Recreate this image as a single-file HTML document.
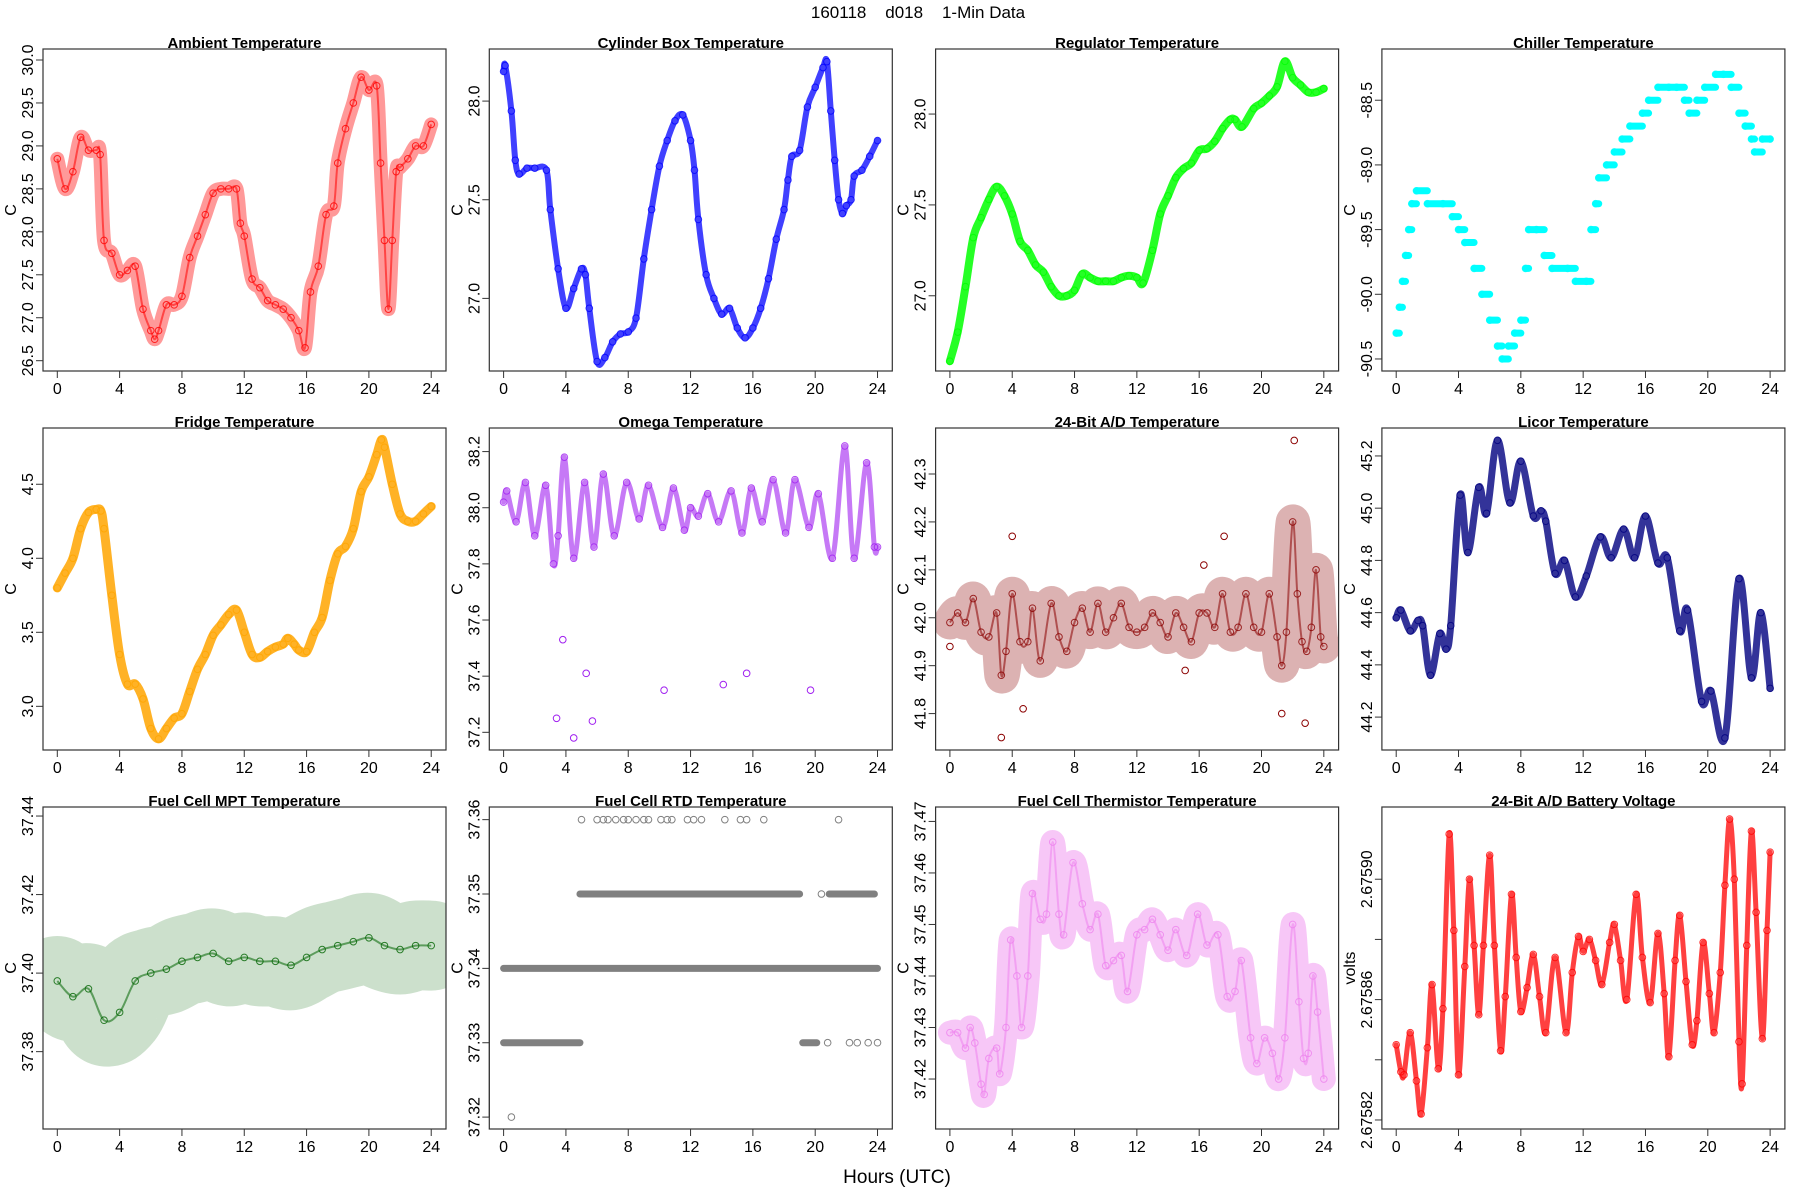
<!DOCTYPE html>
<html><head><meta charset="utf-8"><title>160118 d018 1-Min Data</title>
<style>
html,body{margin:0;padding:0;background:#fff;}
svg{display:block;font-family:"Liberation Sans",Arial,sans-serif;}
</style></head>
<body>
<svg id="chart" width="1800" height="1200" viewBox="0 0 1800 1200" xmlns="http://www.w3.org/2000/svg">
<rect x="0" y="0" width="1800" height="1200" fill="#fff"/>
<text x="918" y="18" text-anchor="middle" font-size="17" style="white-space:pre">160118    d018    1-Min Data</text>
<text x="897" y="1183" text-anchor="middle" font-size="19">Hours (UTC)</text>
</svg>
<script>
// ---- data arrays ----
const xTicks = [0, 4, 8, 12, 16, 20, 24];

const ambientHours = [0,0.5,1,1.5,2,2.5,2.75,3,3.5,4,4.5,5,5.5,6,6.25,6.5,7,7.5,8,8.5,9,9.5,10,10.5,11,11.5,11.75,12,12.5,13,13.5,14,14.5,15,15.5,15.9,16.25,16.75,17.25,17.75,18,18.5,19,19.5,20,20.5,20.75,21,21.25,21.5,21.75,22,22.5,23,23.5,24];
const ambientValues = [28.85,28.5,28.7,29.1,28.95,28.95,28.9,27.9,27.75,27.5,27.55,27.6,27.1,26.85,26.75,26.85,27.15,27.15,27.25,27.7,27.95,28.2,28.45,28.5,28.5,28.5,28.1,27.95,27.45,27.35,27.2,27.15,27.1,27.0,26.85,26.65,27.3,27.6,28.2,28.3,28.8,29.2,29.5,29.8,29.65,29.7,28.8,27.9,27.1,27.9,28.7,28.75,28.85,29.0,29.0,29.25];
const ambientTicks = [26.5,27.0,27.5,28.0,28.5,29.0,29.5,30.0];
const ambientTickLabels = ["26.5","27.0","27.5","28.0","28.5","29.0","29.5","30.0"];

const cylinderHours = [0,0.1,0.5,0.75,1,1.5,2,2.75,3,3.5,4,4.5,5,5.25,5.5,6,6.5,7,7.5,8,8.5,9,9.5,10,10.5,11,11.5,12,12.25,12.5,13,13.5,14,14.5,15,15.5,16,16.5,17,17.5,18,18.25,18.5,19,19.5,20,20.5,20.75,21,21.25,21.5,21.75,22,22.3,22.5,23,23.5,24];
const cylinderValues = [28.15,28.18,27.95,27.7,27.63,27.66,27.66,27.65,27.45,27.15,26.95,27.05,27.15,27.12,26.95,26.68,26.7,26.78,26.82,26.83,26.9,27.2,27.45,27.67,27.8,27.9,27.93,27.8,27.65,27.4,27.12,27.0,26.92,26.95,26.85,26.8,26.85,26.95,27.1,27.3,27.45,27.6,27.72,27.75,27.97,28.07,28.17,28.2,27.95,27.7,27.5,27.43,27.47,27.5,27.62,27.65,27.72,27.8];
const cylinderTicks = [27.0,27.5,28.0];
const cylinderTickLabels = ["27.0","27.5","28.0"];

const regulatorHours = [0,0.5,1,1.5,2,2.5,3,3.5,4,4.5,5,5.5,6,6.5,7,7.5,8,8.5,9,9.5,10,10.5,11,11.5,12,12.4,13,13.5,14,14.5,15,15.5,16,16.5,17,17.5,18,18.3,18.75,19.5,20,20.5,21,21.5,22,22.5,23,23.5,24];
const regulatorValues = [26.64,26.8,27.05,27.32,27.43,27.53,27.6,27.55,27.45,27.3,27.25,27.17,27.13,27.05,27.0,27.0,27.03,27.12,27.1,27.08,27.08,27.08,27.1,27.11,27.1,27.07,27.25,27.45,27.55,27.65,27.7,27.73,27.8,27.81,27.85,27.92,27.97,27.97,27.93,28.03,28.06,28.1,28.15,28.29,28.2,28.16,28.12,28.12,28.14];
const regulatorTicks = [27.0,27.5,28.0];
const regulatorTickLabels = ["27.0","27.5","28.0"];

const chillerHours = [0,0.2,0.4,0.6,0.8,1.0,1.3,2,3,3.6,4.0,4.4,5,5.5,6,6.5,6.8,7.2,7.6,8,8.3,8.5,9,9.5,10,11,11.5,12.2,12.5,12.8,13,13.5,14,14.5,15,15.8,16.2,16.8,17.5,18,18.5,18.8,19.3,19.8,20.5,21,21.5,22,22.4,22.8,23.0,23.5,24];
const chillerValues = [-90.3,-90.1,-89.9,-89.7,-89.5,-89.3,-89.2,-89.3,-89.3,-89.4,-89.5,-89.6,-89.8,-90.0,-90.2,-90.4,-90.5,-90.4,-90.3,-90.2,-89.8,-89.5,-89.5,-89.7,-89.8,-89.8,-89.9,-89.9,-89.5,-89.3,-89.1,-89.0,-88.9,-88.8,-88.7,-88.6,-88.5,-88.4,-88.4,-88.4,-88.5,-88.6,-88.5,-88.4,-88.3,-88.3,-88.4,-88.6,-88.7,-88.8,-88.9,-88.8,-88.8];
const chillerTicks = [-90.5,-90.0,-89.5,-89.0,-88.5];
const chillerTickLabels = ["-90.5","-90.0","-89.5","-89.0","-88.5"];

const fridgeHours = [0,0.5,1,1.5,2,2.5,2.8,3,3.5,4,4.5,5,5.5,6,6.5,7,7.5,8,8.5,9,9.5,10,10.5,11,11.5,12,12.5,13,13.5,14,14.5,14.8,15.2,15.5,16,16.5,17,17.5,18,18.5,19,19.5,20,20.5,20.8,21,21.5,22,22.5,23,23.5,24];
const fridgeValues = [3.8,3.9,4.0,4.2,4.31,4.33,4.32,4.2,3.75,3.35,3.15,3.15,3.05,2.85,2.78,2.85,2.92,2.95,3.1,3.25,3.35,3.48,3.55,3.62,3.65,3.5,3.35,3.33,3.37,3.4,3.42,3.46,3.42,3.38,3.37,3.5,3.6,3.85,4.03,4.08,4.2,4.45,4.55,4.7,4.8,4.75,4.5,4.3,4.25,4.25,4.3,4.35];
const fridgeTicks = [3.0,3.5,4.0,4.5];
const fridgeTickLabels = ["3.0","3.5","4.0","4.5"];

const omegaHours = [0,0.2,0.8,1.4,2.0,2.7,3.2,3.5,3.9,4.5,5.2,5.8,6.4,7.1,7.9,8.7,9.3,10.2,10.9,11.6,12.0,12.5,13.1,13.8,14.6,15.3,15.9,16.6,17.3,18.1,18.7,19.6,20.2,21.1,21.9,22.5,23.3,23.8,24.0];
const omegaValues = [38.02,38.06,37.95,38.09,37.9,38.08,37.8,37.9,38.18,37.82,38.09,37.86,38.12,37.9,38.09,37.96,38.08,37.93,38.07,37.92,38.0,37.97,38.05,37.95,38.06,37.91,38.07,37.95,38.1,37.91,38.1,37.93,38.05,37.82,38.22,37.82,38.16,37.86,37.86];
const omegaOutlierHours = [3.4,3.8,4.5,5.3,5.7,10.3,14.1,15.6,19.7];
const omegaOutlierValues = [37.25,37.53,37.18,37.41,37.24,37.35,37.37,37.41,37.35];
const omegaTicks = [37.2,37.4,37.6,37.8,38.0,38.2];
const omegaTickLabels = ["37.2","37.4","37.6","37.8","38.0","38.2"];

const adHours = [0,0.5,1,1.5,2,2.5,3,3.3,3.6,4,4.5,5,5.3,5.8,6.5,7,7.5,8,8.5,9,9.5,10,10.5,11,11.5,12,12.5,13,13.5,14,14.5,15,15.5,16,16.5,17,17.5,18,18.5,19,19.5,20,20.5,21,21.3,21.6,22,22.3,22.6,22.9,23.2,23.5,23.8,24];
const adValues = [41.99,42.01,41.99,42.04,41.97,41.96,42.01,41.88,41.93,42.05,41.95,41.95,42.02,41.91,42.03,41.96,41.93,41.99,42.02,41.97,42.03,41.97,42.0,42.03,41.98,41.97,41.98,42.01,41.99,41.96,42.01,41.98,41.95,42.01,42.01,41.98,42.05,41.97,41.98,42.05,41.98,41.97,42.05,41.96,41.9,41.97,42.2,42.05,41.95,41.93,41.98,42.1,41.96,41.94];
const adOutlierHours = [3.3,4.0,22.1,21.3,22.8,17.6,16.3,4.7,15.1,0];
const adOutlierValues = [41.75,42.17,42.37,41.8,41.78,42.17,42.11,41.81,41.89,41.94];
const adTicks = [41.8,41.9,42.0,42.1,42.2,42.3];
const adTickLabels = ["41.8","41.9","42.0","42.1","42.2","42.3"];

const licorHours = [0,0.3,0.9,1.4,1.7,2.2,2.8,3.2,3.5,4.1,4.6,5.3,5.8,6.5,7.3,8.0,8.8,9.3,9.6,10.2,10.8,11.5,12.2,13.1,13.8,14.6,15.3,16.0,16.8,17.4,18.2,18.7,19.6,20.2,21.1,22.0,22.8,23.4,24];
const licorValues = [44.58,44.61,44.53,44.57,44.55,44.36,44.52,44.46,44.55,45.05,44.83,45.08,44.98,45.26,45.02,45.18,44.97,44.99,44.95,44.75,44.8,44.66,44.74,44.89,44.81,44.92,44.81,44.97,44.79,44.81,44.53,44.61,44.26,44.3,44.12,44.73,44.35,44.6,44.31];
const licorTicks = [44.2,44.4,44.6,44.8,45.0,45.2];
const licorTickLabels = ["44.2","44.4","44.6","44.8","45.0","45.2"];

const mptHours = [0,1,2,3,4,5,6,7,8,9,10,11,12,13,14,15,16,17,18,19,20,21,22,23,24];
const mptValues = [37.398,37.394,37.396,37.388,37.390,37.398,37.400,37.401,37.403,37.404,37.405,37.403,37.404,37.403,37.403,37.402,37.404,37.406,37.407,37.408,37.409,37.407,37.406,37.407,37.407];
const mptTicks = [37.38,37.40,37.42,37.44];
const mptTickLabels = ["37.38","37.40","37.42","37.44"];

const rtdSegStart = [0,19.2,0,4.9,20.9];
const rtdSegEnd = [4.9,20.1,24,19.0,23.8];
const rtdSegLevel = [37.33,37.33,37.34,37.35,37.35];
const rtdPointHours = [0.5,5.0,6.0,6.4,6.7,7.2,7.7,8.0,8.5,9.0,9.3,10.1,10.5,10.8,11.8,12.2,12.7,14.2,15.2,15.6,16.7,21.5,20.8,22.2,22.7,23.4,24.0,20.4];
const rtdPointLevels = [37.32,37.36,37.36,37.36,37.36,37.36,37.36,37.36,37.36,37.36,37.36,37.36,37.36,37.36,37.36,37.36,37.36,37.36,37.36,37.36,37.36,37.36,37.33,37.33,37.33,37.33,37.33,37.35];
const rtdTicks = [37.32,37.33,37.34,37.35,37.36];
const rtdTickLabels = ["37.32","37.33","37.34","37.35","37.36"];

const thermHours = [0,0.5,1,1.3,1.6,2.0,2.2,2.5,3.0,3.2,3.6,3.9,4.3,4.6,5.0,5.3,5.8,6.2,6.6,7.0,7.3,7.9,8.5,9.0,9.5,10.0,10.5,11.0,11.4,12.0,12.5,13.0,13.5,14.0,14.5,15.2,15.9,16.5,17.2,17.8,18.3,18.7,19.3,19.7,20.2,20.7,21.1,21.5,22.0,22.4,22.7,23.0,23.3,23.6,24];
const thermValues = [37.429,37.429,37.426,37.43,37.427,37.419,37.417,37.424,37.426,37.421,37.43,37.447,37.44,37.43,37.44,37.456,37.451,37.452,37.466,37.452,37.448,37.462,37.454,37.449,37.452,37.442,37.443,37.444,37.437,37.448,37.449,37.451,37.448,37.445,37.449,37.444,37.452,37.446,37.448,37.436,37.437,37.443,37.428,37.423,37.428,37.425,37.42,37.428,37.45,37.435,37.424,37.425,37.44,37.433,37.42];
const thermTicks = [37.42,37.43,37.44,37.45,37.46,37.47];
const thermTickLabels = ["37.42","37.43","37.44","37.45","37.46","37.47"];

const battHours = [0,0.3,0.5,0.9,1.3,1.6,2.0,2.3,2.7,3.0,3.4,3.7,4.0,4.4,4.7,5.0,5.3,5.6,6.0,6.3,6.7,7.0,7.4,7.7,8.0,8.4,8.8,9.2,9.6,10.2,10.9,11.3,11.7,12.0,12.4,12.8,13.2,13.7,14.0,14.4,14.8,15.4,15.8,16.3,16.8,17.2,17.5,17.9,18.2,18.6,19.0,19.3,19.7,20.1,20.4,20.8,21.1,21.4,21.7,22.0,22.2,22.5,22.8,23.1,23.5,23.8,24.0];
const battValues = [2.675845,2.675836,2.675835,2.675849,2.675833,2.675822,2.675844,2.675865,2.675837,2.675857,2.675915,2.675883,2.675835,2.675871,2.675900,2.675878,2.675855,2.675878,2.675908,2.675878,2.675843,2.675861,2.675895,2.675874,2.675856,2.675864,2.675875,2.675861,2.675849,2.675874,2.675849,2.675869,2.675881,2.675876,2.675880,2.675873,2.675865,2.675879,2.675885,2.675873,2.675860,2.675895,2.675874,2.675859,2.675882,2.675862,2.675841,2.675873,2.675888,2.675866,2.675845,2.675853,2.675879,2.675862,2.675849,2.675869,2.675898,2.675920,2.675900,2.675846,2.675832,2.675878,2.675916,2.675889,2.675847,2.675883,2.675909];
const battTicks = [2.67582,2.67584,2.67586,2.67588,2.67590];
const battTickLabels = ["2.67582","","2.67586","","2.67590"];

// ---- rendering ----
const NS = "http://www.w3.org/2000/svg";
const svg = document.getElementById("chart");
function mk(tag, attrs, parent) {
  const e = document.createElementNS(NS, tag);
  for (const k in attrs) e.setAttribute(k, attrs[k]);
  (parent || svg).appendChild(e);
  return e;
}
function smoothPath(P) {
  if (P.length < 2) return "";
  let d = "M" + P[0][0].toFixed(1) + "," + P[0][1].toFixed(1);
  for (let i = 0; i < P.length - 1; i++) {
    const p0 = P[i - 1] || P[i], p1 = P[i], p2 = P[i + 1], p3 = P[i + 2] || P[i + 1];
    const c1x = p1[0] + (p2[0] - p0[0]) / 6, c1y = p1[1] + (p2[1] - p0[1]) / 6;
    const c2x = p2[0] - (p3[0] - p1[0]) / 6, c2y = p2[1] - (p3[1] - p1[1]) / 6;
    d += " C" + c1x.toFixed(1) + "," + c1y.toFixed(1) + " " + c2x.toFixed(1) + "," + c2y.toFixed(1) + " " + p2[0].toFixed(1) + "," + p2[1].toFixed(1);
  }
  return d;
}

const panels = [
  {slug:"ambient", title:"Ambient Temperature", ylab:"C", ytop:30.128, ybot:26.38, color:"#ff0000", hours:ambientHours, values:ambientValues, ticks:ambientTicks, labels:ambientTickLabels, mode:"band", sw:14, op:0.4},
  {slug:"cylinder-box", title:"Cylinder Box Temperature", ylab:"C", ytop:28.264, ybot:26.632, color:"#0000ff", hours:cylinderHours, values:cylinderValues, ticks:cylinderTicks, labels:cylinderTickLabels, mode:"line", sw:6, op:0.75},
  {slug:"regulator", title:"Regulator Temperature", ylab:"C", ytop:28.358, ybot:26.586, color:"#00ff00", hours:regulatorHours, values:regulatorValues, ticks:regulatorTicks, labels:regulatorTickLabels, mode:"line", sw:8, op:0.85},
  {slug:"chiller", title:"Chiller Temperature", ylab:"C", ytop:-88.104, ybot:-90.593, color:"#00ffff", hours:chillerHours, values:chillerValues, ticks:chillerTicks, labels:chillerTickLabels, mode:"step", sw:7, op:1},
  {slug:"fridge", title:"Fridge Temperature", ylab:"C", ytop:4.88, ybot:2.705, color:"#ffa500", hours:fridgeHours, values:fridgeValues, ticks:fridgeTicks, labels:fridgeTickLabels, mode:"line", sw:9, op:0.85},
  {slug:"omega", title:"Omega Temperature", ylab:"C", ytop:38.284, ybot:37.137, color:"#a020f0", hours:omegaHours, values:omegaValues, ticks:omegaTicks, labels:omegaTickLabels, mode:"line", sw:5, op:0.6, oh:omegaOutlierHours, ov:omegaOutlierValues},
  {slug:"ad-temperature", title:"24-Bit A/D Temperature", ylab:"C", ytop:42.396, ybot:41.724, color:"#8b0000", hours:adHours, values:adValues, ticks:adTicks, labels:adTickLabels, mode:"band", sw:34, op:0.3, oh:adOutlierHours, ov:adOutlierValues},
  {slug:"licor", title:"Licor Temperature", ylab:"C", ytop:45.307, ybot:44.074, color:"#000080", hours:licorHours, values:licorValues, ticks:licorTicks, labels:licorTickLabels, mode:"line", sw:7, op:0.8},
  {slug:"fuel-cell-mpt", title:"Fuel Cell MPT Temperature", ylab:"C", ytop:37.4423, ybot:37.3603, color:"#006400", hours:mptHours, values:mptValues, ticks:mptTicks, labels:mptTickLabels, mode:"band", sw:90, op:0.2},
  {slug:"fuel-cell-rtd", title:"Fuel Cell RTD Temperature", ylab:"C", ytop:37.3617, ybot:37.3184, color:"#808080", hours:[], values:[], ticks:rtdTicks, labels:rtdTickLabels, mode:"rtd", sw:7, op:1},
  {slug:"fuel-cell-thermistor", title:"Fuel Cell Thermistor Temperature", ylab:"C", ytop:37.4728, ybot:37.4103, color:"#ee82ee", hours:thermHours, values:thermValues, ticks:thermTicks, labels:thermTickLabels, mode:"band", sw:24, op:0.45},
  {slug:"battery-voltage", title:"24-Bit A/D Battery Voltage", ylab:"volts", ytop:2.675924, ybot:2.675817, color:"#ff0000", hours:battHours, values:battValues, ticks:battTicks, labels:battTickLabels, mode:"line", sw:5, op:0.75}
];

panels.forEach(function(p, i) {
  const col = i % 4, row = Math.floor(i / 4);
  const L = 43 + col * 446.3, T = 49 + row * 379, W = 403, H = 322;
  const xS = function(hr) { return L + 14.3 + hr * 15.58; };
  const yS = function(v) { return T + (p.ytop - v) / (p.ytop - p.ybot) * H; };
  const g = mk("g", {});
  
  
  const clipId = "clip" + i;
  const cp = mk("clipPath", {id: clipId}, g);
  mk("rect", {x: L, y: T, width: W, height: H}, cp);
  const marks = mk("g", {"clip-path": "url(#" + clipId + ")"}, g);
  
  

  const P = p.hours.map(function(hr, k) { return [xS(hr), yS(p.values[k])]; });
  const d = smoothPath(P);
  if (p.mode === "line" || p.mode === "band") {
    const band = mk("path", {d: d, fill: "none", stroke: p.color, "stroke-width": p.sw, "stroke-opacity": p.op, "stroke-linejoin": "round", "stroke-linecap": "round"}, marks);
    
    
    if (p.mode === "band") {
      const core = mk("path", {d: d, fill: "none", stroke: p.color, "stroke-width": 2, "stroke-opacity": 0.55}, marks);
      
      
    }
  }
  if (p.mode === "step") {
    for (let k = 0; k < p.hours.length; k++) {
      const x2 = k + 1 < p.hours.length ? p.hours[k + 1] : p.hours[k];
      const seg = mk("line", {x1: xS(p.hours[k]), y1: yS(p.values[k]), x2: xS(x2), y2: yS(p.values[k]), stroke: p.color, "stroke-width": p.sw, "stroke-linecap": "round"}, marks);
      
      
    }
  }
  if (p.mode === "rtd") {
    for (let k = 0; k < rtdSegStart.length; k++) {
      const seg = mk("line", {x1: xS(rtdSegStart[k]), y1: yS(rtdSegLevel[k]), x2: xS(rtdSegEnd[k]), y2: yS(rtdSegLevel[k]), stroke: p.color, "stroke-width": p.sw, "stroke-linecap": "round"}, marks);
      
      
    }
    for (let k = 0; k < rtdPointHours.length; k++) {
      const c = mk("circle", {cx: xS(rtdPointHours[k]), cy: yS(rtdPointLevels[k]), r: 3.3, fill: "none", stroke: p.color, "stroke-width": 1}, marks);
      
      
    }
  }
  for (let k = 0; k < p.hours.length; k++) {
    const c = mk("circle", {cx: xS(p.hours[k]), cy: yS(p.values[k]), r: 3.3, fill: "none", stroke: p.color, "stroke-width": 1, "stroke-opacity": 0.8}, marks);
    
    
  }
  if (p.oh) {
    for (let k = 0; k < p.oh.length; k++) {
      const c = mk("circle", {cx: xS(p.oh[k]), cy: yS(p.ov[k]), r: 3.3, fill: "none", stroke: p.color, "stroke-width": 1}, marks);
      
      
    }
  }

  const box = mk("rect", {x: L, y: T, width: W, height: H, fill: "none", stroke: "#333", "stroke-width": 1.2}, g);
  
  

  const xa = mk("g", {}, g);
  
  
  mk("line", {x1: xS(0), y1: T + H, x2: xS(24), y2: T + H, stroke: "#333", "stroke-width": 1}, xa);
  xTicks.forEach(function(t) {
    mk("line", {x1: xS(t), y1: T + H, x2: xS(t), y2: T + H + 7, stroke: "#333", "stroke-width": 1}, xa);
    const tx = mk("text", {x: xS(t), y: T + H + 23, "text-anchor": "middle", "font-size": 16}, xa);
    tx.textContent = String(t);
    
    
  });

  const ya = mk("g", {}, g);
  
  
  mk("line", {x1: L, y1: yS(p.ticks[0]), x2: L, y2: yS(p.ticks[p.ticks.length - 1]), stroke: "#333", "stroke-width": 1}, ya);
  p.ticks.forEach(function(t, k) {
    const y = yS(t);
    mk("line", {x1: L - 7, y1: y, x2: L, y2: y, stroke: "#333", "stroke-width": 1}, ya);
    if (p.labels[k]) {
      const tx = mk("text", {x: L - 10, y: y, "text-anchor": "middle", "font-size": 16, transform: "rotate(-90 " + (L - 10) + " " + y + ")"}, ya);
      tx.textContent = p.labels[k];
      
      
    }
  });
  const yl = mk("text", {x: L - 27, y: T + H / 2, "text-anchor": "middle", "font-size": 16, transform: "rotate(-90 " + (L - 27) + " " + (T + H / 2) + ")"}, g);
  yl.textContent = p.ylab;
  
  

  const tt = mk("text", {x: L + W / 2, y: T - 1, "text-anchor": "middle", "font-size": 15, "font-weight": "bold"}, g);
  tt.textContent = p.title;
  
  
});
</script>
</body></html>
